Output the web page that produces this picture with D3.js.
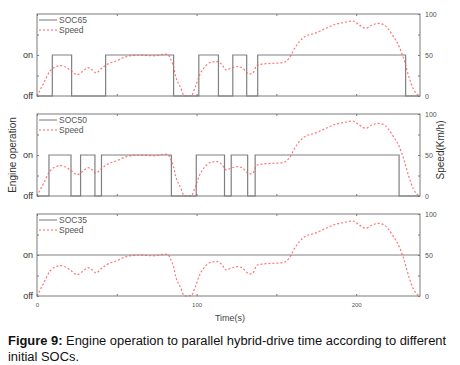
<!DOCTYPE html>
<html>
<head>
<meta charset="utf-8">
<script src="https://cdn.jsdelivr.net/npm/d3@7"></script>
<style>
  body { margin: 0; background: #fff; }
  svg { display: block; font-family: "Liberation Sans", Arial, sans-serif; }
</style>
</head>
<body>
<div id="chart"></div>
<script>
// speed profile (km/h) vs time (s)
const speedTime  = [0, 4, 8, 11.5, 15, 19, 22, 25, 28.5, 32, 34.5, 37, 40, 43.5, 50, 56, 64, 69, 73, 77, 80, 82, 83.5, 85.5, 87, 90, 92.5, 96.7, 99, 102, 105, 108, 113, 116, 118.5, 121, 125.8, 129, 133, 135, 138, 142, 146.7, 150, 153.8, 158, 162, 167.5, 174.8, 181, 187, 192, 197.7, 202, 206, 210, 214, 217.5, 220, 222.7, 227, 230, 233, 236, 239.5];
const speedValue = [0, 15, 30, 35.5, 37, 34, 30, 26, 30, 34.5, 32, 28, 33, 38, 43, 48, 50, 49.5, 49, 50, 51, 50.5, 46, 36, 23.5, 10, 0, 0.5, 10, 26, 35, 40.6, 42, 38, 31.7, 33.5, 35.8, 33.7, 26.8, 27.6, 37.8, 39, 39.8, 40, 40.6, 46, 60, 72, 77, 82.5, 87.4, 89.5, 91.5, 86.6, 82.5, 86.6, 88.6, 86.6, 82, 74.4, 60, 44, 23.5, 8, 0];

// engine on/off switching times (starts off, toggles at each time)
const soc65Switch = [9.6, 21.7, 43, 85.6, 101.4, 113.7, 122.7, 131.4, 138.3, 231];
const soc50Switch = [7.5, 21.3, 27.3, 36.3, 40.4, 84.2, 99.8, 117.5, 121.7, 132, 136.7, 226.9];
const soc35Switch = [0];

const panelNames = ["SOC65", "SOC50", "SOC35"];
const panelSwitch = [soc65Switch, soc50Switch, soc35Switch];

const timeTicks = [0, 50, 100, 150, 200];
const timeLabels = [0, 100, 200];
const speedTicks = [0, 25, 50, 75, 100];
const speedLabels = [0, 50, 100];

const width = 460, height = 365;
const left = 37, right = 420;
const panelTop = [14, 114, 214], panelH = 82;
const tEnd = 240;

const svg = d3.select("#chart").append("svg")
  .attr("width", width)
  .attr("height", height);

const x = d3.scaleLinear().domain([0, tEnd]).range([left, right]);

const frameColor = "#7a7a7a";
const engColor = "#808080";
const speedColor = "#ff5c5c";

panelNames.forEach((name, p) => {
  const top = panelTop[p], bottom = top + panelH;
  const ySpeed = d3.scaleLinear().domain([0, 100]).range([bottom, top]);
  const yEng = d3.scaleLinear().domain([0, 2]).range([bottom, top]); // 0 off, 1 on

  const g = svg.append("g");

  // engine state as step line
  const sw = panelSwitch[p];
  let pts = [];
  let state = 0;
  if (sw[0] > 0) pts.push([0, 0]);
  for (let t of sw) {
    state = 1 - state;
    pts.push([t, state]);
  }
  pts.push([tEnd, state]);

  g.append("path")
    .datum(pts)
    .attr("fill", "none")
    .attr("stroke", engColor)
    .attr("stroke-width", 1.2)
    .attr("d", d3.line().x(d => x(d[0])).y(d => yEng(d[1])).curve(d3.curveStepAfter));

  // speed
  g.append("path")
    .datum(speedTime.map((t, i) => [t, speedValue[i]]))
    .attr("fill", "none")
    .attr("stroke", speedColor)
    .attr("stroke-width", 1.2)
    .attr("stroke-dasharray", "2,2")
    .attr("opacity", 0.85)
    .attr("d", d3.line().x(d => x(d[0])).y(d => ySpeed(d[1])).curve(d3.curveMonotoneX));

  // frame
  g.append("rect")
    .attr("x", left).attr("y", top)
    .attr("width", right - left).attr("height", panelH)
    .attr("fill", "none")
    .attr("stroke", frameColor)
    .attr("stroke-width", 1);

  // x ticks (inward, top and bottom)
  g.append("g")
    .attr("transform", `translate(0,${bottom})`)
    .call(d3.axisBottom(x).tickValues(timeTicks).tickSize(-2)
      .tickFormat(d => (p === 2 && timeLabels.includes(d)) ? d : ""))
    .call(a => a.select(".domain").remove())
    .call(a => a.selectAll("line").attr("stroke", frameColor))
    .call(a => a.selectAll("text").attr("font-size", 6).attr("fill", "#555").attr("dy", "1.3em")
      .attr("font-family", "Liberation Sans, Arial, sans-serif"));
  g.append("g")
    .attr("transform", `translate(0,${top})`)
    .call(d3.axisTop(x).tickValues(timeTicks).tickSize(-2).tickFormat(""))
    .call(a => a.select(".domain").remove())
    .call(a => a.selectAll("line").attr("stroke", frameColor));

  // right speed axis
  g.append("g")
    .attr("transform", `translate(${right},0)`)
    .call(d3.axisRight(ySpeed).tickValues(speedTicks).tickSize(-2).tickPadding(5)
      .tickFormat(d => speedLabels.includes(d) ? d : ""))
    .call(a => a.select(".domain").remove())
    .call(a => a.selectAll("line").attr("stroke", frameColor))
    .call(a => a.selectAll("text").attr("font-size", 7).attr("fill", "#555")
      .attr("font-family", "Liberation Sans, Arial, sans-serif"));

  // left engine axis
  g.append("g")
    .attr("transform", `translate(${left},0)`)
    .call(d3.axisLeft(yEng).tickValues([0, 0.5, 1, 1.5]).tickSize(-2).tickPadding(4)
      .tickFormat(d => d === 0 ? "off" : d === 1 ? "on" : ""))
    .call(a => a.select(".domain").remove())
    .call(a => a.selectAll("line").attr("stroke", frameColor))
    .call(a => a.selectAll("text").attr("font-size", 9).attr("fill", "#333")
      .attr("font-family", "Liberation Sans, Arial, sans-serif"));

  // legend
  const lg = g.append("g").attr("font-size", 8.5).attr("fill", "#555");
  lg.append("line").attr("x1", 39).attr("x2", 57).attr("y1", top + 6).attr("y2", top + 6)
    .attr("stroke", "#777").attr("stroke-width", 1);
  lg.append("text").attr("x", 59).attr("y", top + 9).text(name);
  lg.append("line").attr("x1", 39).attr("x2", 57).attr("y1", top + 16).attr("y2", top + 16)
    .attr("stroke", speedColor).attr("stroke-width", 1.2).attr("stroke-dasharray", "2,2");
  lg.append("text").attr("x", 59).attr("y", top + 19).text("Speed");
});

// axis titles
svg.append("text")
  .attr("transform", "translate(16,155) rotate(-90)")
  .attr("text-anchor", "middle")
  .attr("font-size", 10)
  .attr("fill", "#333")
  .text("Engine operation");

svg.append("text")
  .attr("transform", "translate(444,150) rotate(-90)")
  .attr("text-anchor", "middle")
  .attr("font-size", 10)
  .attr("fill", "#333")
  .text("Speed(Km/h)");

svg.append("text")
  .attr("x", 230).attr("y", 321)
  .attr("text-anchor", "middle")
  .attr("font-size", 9)
  .attr("fill", "#444")
  .text("Time(s)");

// caption: fit the first line between x=8 and x=447
const capSize = 13.5;
const cap = svg.append("text").attr("font-size", capSize).attr("fill", "#111");
const l1 = cap.append("tspan").attr("x", 8).attr("y", 345);
l1.append("tspan").attr("font-weight", "bold").text("Figure 9:");
l1.append("tspan").text(" Engine operation to parallel hybrid-drive time according to different");
cap.append("tspan").attr("x", 8).attr("y", 361).text("initial SOCs.");

const w1 = cap.node().getBBox().width;
if (w1 > 439) cap.attr("font-size", capSize * 439 / w1);
</script>
</body>
</html>
